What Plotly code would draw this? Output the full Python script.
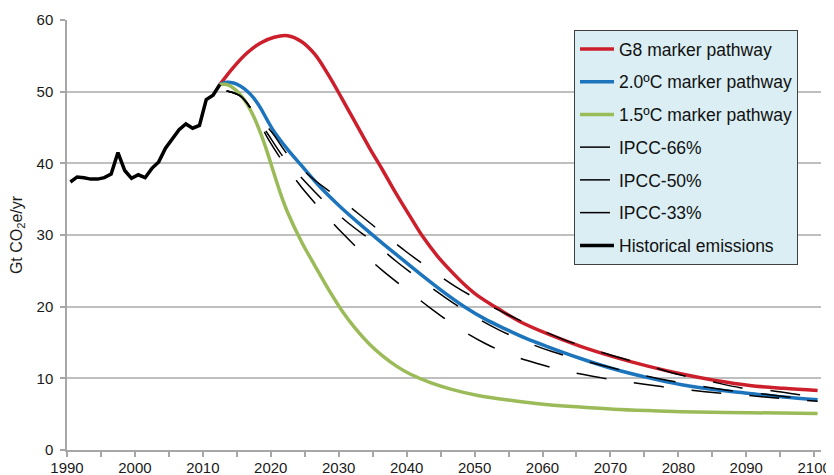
import plotly.graph_objects as go

# ---------------- data ----------------
hist_years = list(range(1990, 2013))
hist_vals = [37.4, 38.1, 38.0, 37.8, 37.8, 38.0, 38.5, 41.5, 39.0, 37.9, 38.4, 38.0,
             39.3, 40.2, 42.1, 43.4, 44.7, 45.5, 44.9, 45.3, 48.9, 49.5, 51.0]

g8_years = [2012, 2014, 2016, 2018, 2020, 2022, 2024, 2026, 2028, 2030, 2032, 2034, 2036,
            2038, 2040, 2042, 2044, 2046, 2048, 2050, 2053, 2056, 2060, 2065, 2070, 2075,
            2080, 2085, 2090, 2095, 2100]
g8_vals = [51.0, 53.4, 55.4, 56.8, 57.6, 57.8, 57.0, 55.2, 52.3, 49.0, 45.6, 42.2, 39.0,
           35.7, 32.6, 29.6, 27.1, 25.0, 23.1, 21.5, 19.7, 18.0, 16.3, 14.5, 13.0, 11.7,
           10.6, 9.7, 9.0, 8.6, 8.3]

c20_years = [2012, 2013, 2014, 2015, 2016, 2017, 2018, 2019, 2020, 2022, 2024, 2026, 2028,
             2030, 2033, 2036, 2039, 2042, 2045, 2048, 2051, 2054, 2057, 2060, 2065, 2070,
             2075, 2080, 2085, 2090, 2095, 2100]
c20_vals = [51.0, 51.3, 51.2, 50.8, 50.1, 49.1, 47.7, 46.0, 44.4, 41.9, 39.7, 37.5, 35.5,
            33.7, 31.2, 28.8, 26.5, 24.2, 22.0, 20.0, 18.3, 16.9, 15.6, 14.5, 12.8, 11.3,
            10.1, 9.1, 8.4, 7.9, 7.4, 7.0]

c15_years = [2012, 2013, 2014, 2015, 2016, 2017, 2018, 2019, 2020, 2021, 2022, 2024, 2026,
             2028, 2030, 2032, 2034, 2036, 2038, 2040, 2043, 2046, 2050, 2055, 2060, 2065,
             2070, 2075, 2080, 2090, 2100]
c15_vals = [51.0, 51.0, 50.5, 49.6, 48.3, 46.5, 44.2, 41.5, 38.5, 35.6, 33.1, 29.1, 25.7,
            22.4, 19.4, 16.9, 14.8, 13.1, 11.7, 10.6, 9.4, 8.5, 7.6, 6.9, 6.35, 6.0,
            5.7, 5.5, 5.35, 5.2, 5.1]

ipcc66_years = [2013, 2015, 2017, 2019, 2021, 2024, 2027, 2030, 2033, 2036, 2040, 2043,
                2047, 2051, 2055, 2059, 2063, 2068, 2072, 2077, 2081, 2085, 2090, 2095, 2100]
ipcc66_vals = [50.1, 49.4, 47.1, 43.6, 40.6, 36.7, 33.4, 30.3, 27.5, 25.0, 22.0, 19.8,
               17.1, 14.9, 13.2, 12.0, 11.0, 10.1, 9.5, 8.85, 8.4, 8.0, 7.6, 7.15, 6.8]

ipcc50_years = [2013, 2015, 2017, 2019, 2021.5, 2024.6, 2027.7, 2031, 2034.5, 2038, 2041.6,
                2045.3, 2049, 2053, 2057, 2061, 2065, 2070, 2074, 2078, 2083, 2087, 2092,
                2096, 2100]
ipcc50_vals = [50.1, 49.4, 47.1, 44.2, 40.7, 37.4, 34.4, 31.6, 29.1, 26.3, 23.7, 21.2,
               18.9, 16.8, 15.1, 13.7, 12.6, 11.4, 10.5, 9.7, 8.9, 8.3, 7.8, 7.35, 7.05]

ipcc33_years = [2013, 2015, 2017, 2019.6, 2022.1, 2025.4, 2029, 2032.5, 2035.9, 2039.4,
                2043, 2046.7, 2050.6, 2054.6, 2058.7, 2062.9, 2067.3, 2071.2, 2075.6,
                2079.7, 2084.1, 2088.6, 2093, 2097.4, 2100]
ipcc33_vals = [50.1, 49.4, 47.1, 44.4, 41.1, 38.1, 35.5, 32.9, 30.3, 27.7, 25.2, 22.8,
               20.7, 18.8, 17.0, 15.3, 13.9, 12.8, 11.6, 10.5, 9.6, 8.7, 8.3, 7.7, 7.45]

x_ticks = list(range(1990, 2101, 10))
y_ticks = list(range(0, 61, 10))

# category-centred positions (each year's value drawn at the middle of its year)
def pos(years):
    return [y + 0.5 for y in years]

RED = "#CC1F2B"
BLUE = "#1C75BC"
GREEN = "#9BBB59"

fig = go.Figure()

def add(name, xs, ys, color, width, dash="solid", shape="spline"):
    fig.add_trace(go.Scatter(
        x=pos(xs), y=ys, mode="lines", name=name, legendgroup=name,
        line=dict(color=color, width=width, dash=dash, shape=shape, smoothing=1.0),
    ))

add("G8 marker pathway", g8_years, g8_vals, RED, 3.5)
add("2.0ºC marker pathway", c20_years, c20_vals, BLUE, 3.5)
add("1.5ºC marker pathway", c15_years, c15_vals, GREEN, 3.5)
add("IPCC-66%", ipcc66_years, ipcc66_vals, "black", 1.5, dash="30px,28px")
add("IPCC-50%", ipcc50_years, ipcc50_vals, "black", 1.5, dash="30px,28px")
add("IPCC-33%", ipcc33_years, ipcc33_vals, "black", 1.5, dash="30px,28px")
add("Historical emissions", hist_years, hist_vals, "black", 3.5, shape="linear")

FONT = "Liberation Sans, Arial, sans-serif"

# the page body has an 8px margin, so the figure is sized to fit the window
fig.update_layout(
    width=826, height=467,
    margin=dict(l=59, r=13, t=12, b=25, autoexpand=False),
    paper_bgcolor="white", plot_bgcolor="white",
    font=dict(family=FONT, size=15, color="#1a1a1a"),
    showlegend=True,
    legend=dict(
        x=(574 - 67) / 754, y=(450 - 30) / 430, xanchor="left", yanchor="top",
        bgcolor="#DAEEF3", bordercolor="#404040", borderwidth=1,
        font=dict(family=FONT, size=17.5, color="#111"),
        tracegroupgap=7, itemwidth=34,
    ),
    xaxis=dict(
        range=[1990, 2101], tickvals=x_ticks, ticktext=[str(v) for v in x_ticks],
        showgrid=False, zeroline=False, automargin=False,
        showline=True, linecolor="#A6A6A6", linewidth=1.5,
        ticks="outside", ticklen=5, tickcolor="#A6A6A6", tickwidth=1.5,
        minor=dict(dtick=5, tick0=1990, ticks="outside", ticklen=5,
                   tickcolor="#A6A6A6", tickwidth=1.5, showgrid=False),
        tickfont=dict(size=15), ticklabelstandoff=-2,
    ),
    yaxis=dict(
        range=[0, 60], tickvals=y_ticks, automargin=False,
        showgrid=True, gridcolor="#BFBFBF", gridwidth=1.5, zeroline=False,
        showline=True, linecolor="#A6A6A6", linewidth=1.5,
        ticks="outside", ticklen=5, tickcolor="#A6A6A6", tickwidth=1.5,
        tickfont=dict(size=15), ticklabelstandoff=4,
        title=dict(text="Gt CO<sub>2</sub>e/yr", font=dict(size=16), standoff=10),
    ),
)

fig.write_html("out.html")
